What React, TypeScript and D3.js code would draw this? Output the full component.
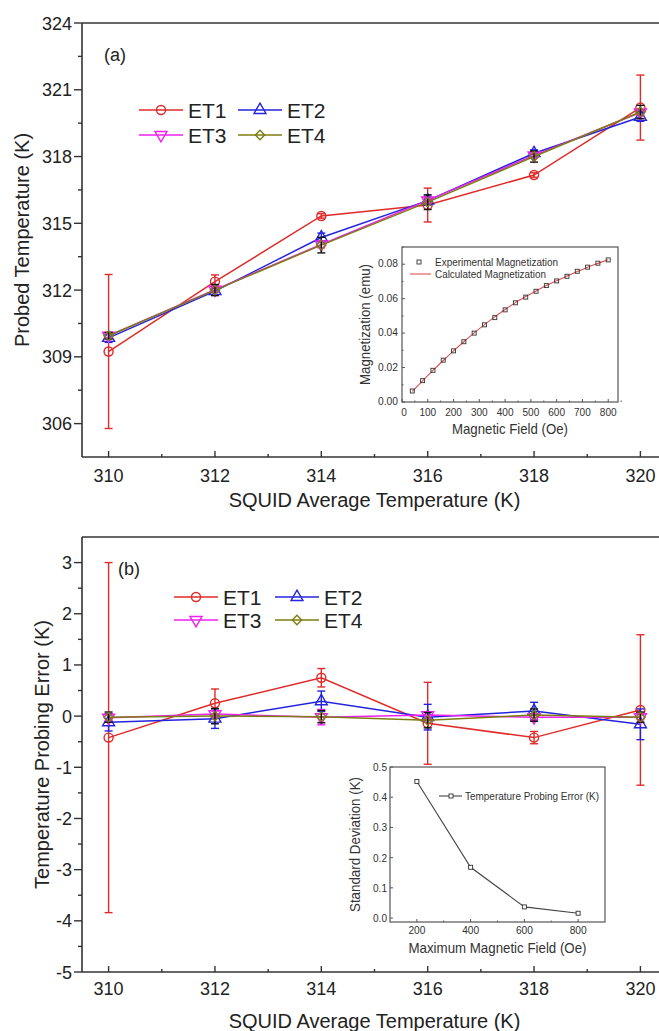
import React, { useEffect } from 'react';
import * as d3 from 'd3';

// SQUID average temperature (K), shared x values of both main panels
const squidTemps = [310, 312, 314, 316, 318, 320];
const seriesNames = ['ET1', 'ET2', 'ET3', 'ET4'];

// (a) probed temperature (K) and error bars
const probedET1 = [309.24, 312.38, 315.33, 315.82, 317.17, 320.2];
const probedET2 = [309.85, 311.95, 314.36, 316.02, 318.15, 319.78];
const probedET3 = [309.95, 312.02, 314.05, 316.03, 318.05, 319.98];
const probedET4 = [309.95, 312.0, 314.02, 315.95, 318.0, 320.0];
const probedErrET1 = [3.46, 0.3, 0.1, 0.76, 0.1, 1.46];
const probedErrET2 = [0.2, 0.15, 0.2, 0.2, 0.15, 0.2];
const probedErrET3 = [0.1, 0.1, 0.15, 0.1, 0.1, 0.1];
const probedErrET4 = [0.15, 0.25, 0.35, 0.33, 0.25, 0.3];

// (b) temperature probing error (K) and error bars
const errorET1 = [-0.42, 0.25, 0.75, -0.14, -0.42, 0.12];
const errorET2 = [-0.12, -0.05, 0.29, -0.02, 0.1, -0.16];
const errorET3 = [-0.03, 0.04, -0.02, 0.02, -0.02, -0.02];
const errorET4 = [-0.02, 0.0, -0.01, -0.08, 0.02, -0.02];
const errorErrET1 = [3.42, 0.28, 0.18, 0.8, 0.12, 1.47];
const errorErrET2 = [0.17, 0.19, 0.2, 0.25, 0.17, 0.3];
const errorErrET3 = [0.05, 0.06, 0.15, 0.06, 0.06, 0.05];
const errorErrET4 = [0.1, 0.15, 0.12, 0.15, 0.12, 0.1];

// inset (a): magnetization vs field
const fieldOe = [40, 80, 120, 160, 200, 240, 280, 320, 360, 400, 440, 480, 520, 560, 600, 640, 680, 720, 760, 800];
const expMagnetization = [0.0064, 0.0124, 0.0184, 0.0243, 0.0297, 0.035, 0.040, 0.0448, 0.049, 0.0535,
  0.0576, 0.0609, 0.0643, 0.0676, 0.0703, 0.073, 0.0759, 0.0783, 0.0806, 0.0825];
const calcMagnetization = [0.0062, 0.0123, 0.0183, 0.0241, 0.0297, 0.035, 0.0401, 0.0449, 0.0494, 0.0537,
  0.0577, 0.0612, 0.0645, 0.0676, 0.0704, 0.0731, 0.0758, 0.0783, 0.0805, 0.0826];

// inset (b): standard deviation vs max field
const maxFieldOe = [200, 400, 600, 800];
const stdDevK = [0.452, 0.168, 0.037, 0.016];

const colors = ['#e02a2a', '#2424dc', '#f020f0', '#7d7d10'];
const errColors = ['#e02a2a', '#2424dc', '#f020f0', '#111'];
const FONT = '"Liberation Sans", Arial, sans-serif';

function markerPath(i: number) {
  if (i === 0) return d3.symbol(d3.symbolCircle, 64)();
  if (i === 1 || i === 2) return d3.symbol(d3.symbolTriangle, 62)();
  return d3.symbol(d3.symbolDiamond2, 56)();
}

function Marker({ i, x, y }: { i: number; x: number; y: number }) {
  const rot = i === 2 ? ' rotate(180)' : '';
  return <path d={markerPath(i) || ''} transform={`translate(${x},${y})${rot}`}
    fill="none" stroke={colors[i]} strokeWidth={1.4} />;
}

// condensed-looking text for the insets (the original uses a narrow face)
function NText(props: any) {
  return <text lengthAdjust="spacingAndGlyphs" {...props} />;
}

type PanelProps = {
  top: number; bottom: number; yDomain: [number, number];
  yTicks: number[]; yMinor: number[]; values: number[][]; errs: number[][];
  label: string; labelX: number; labelY: number;
  legendX: number[]; legendRows: number[];
  yTitle: string; yTitleX: number; xLabelY: number; xTitleY: number;
};

function MainPanel(p: PanelProps) {
  const left = 82, right = 667;
  const x = d3.scaleLinear().domain([309.5, 320.5]).range([left, right]);
  const y = d3.scaleLinear().domain(p.yDomain).range([p.bottom, p.top]);
  const xMajor = d3.range(310, 321, 2);
  const xMinor = d3.range(311, 321, 2);
  const line = d3.line<number>().x((_, k) => x(squidTemps[k])).y(d => y(d));
  const midY = (p.top + p.bottom) / 2;
  return (
    <g fontFamily={FONT}>
      {/* frame */}
      <line x1={left} x2={right} y1={p.top} y2={p.top} stroke="#333" strokeWidth={1.6} />
      <line x1={left} x2={left} y1={p.top} y2={p.bottom} stroke="#333" strokeWidth={1.6} />
      <line x1={left} x2={right} y1={p.bottom} y2={p.bottom} stroke="#333" strokeWidth={1.6} />
      {xMajor.map(t => <line key={'xM' + t} x1={x(t)} x2={x(t)} y1={p.bottom} y2={p.bottom - 6} stroke="#333" strokeWidth={1.4} />)}
      {xMinor.map(t => <line key={'xm' + t} x1={x(t)} x2={x(t)} y1={p.bottom} y2={p.bottom - 3} stroke="#333" strokeWidth={1.4} />)}
      {p.yTicks.map(t => <line key={'yM' + t} x1={left} x2={left - 8} y1={y(t)} y2={y(t)} stroke="#333" strokeWidth={1.4} />)}
      {p.yMinor.map(t => <line key={'ym' + t} x1={left} x2={left - 4} y1={y(t)} y2={y(t)} stroke="#333" strokeWidth={1.4} />)}
      {xMajor.map(t => <text key={'xl' + t} x={x(t)} y={p.xLabelY} fontSize={18} textAnchor="middle" fill="#222">{t}</text>)}
      {p.yTicks.map(t => <text key={'yl' + t} x={72} y={y(t) + 6.5} fontSize={18} textAnchor="end" fill="#222">{t}</text>)}
      <text x={(left + right) / 2} y={p.xTitleY} fontSize={20} textAnchor="middle" fill="#222">SQUID Average Temperature (K)</text>
      <text transform={`translate(${p.yTitleX},${midY}) rotate(-90)`} fontSize={20} textAnchor="middle" fill="#222">{p.yTitle}</text>
      <text x={p.labelX} y={p.labelY} fontSize={18} fill="#222">{p.label}</text>
      {/* series */}
      {p.values.map((vals, i) => (
        <g key={seriesNames[i]}>
          <path d={line(vals) || ''} fill="none" stroke={colors[i]} strokeWidth={1.5} />
          {vals.map((v, k) => {
            const cx = x(squidTemps[k]);
            const e = p.errs[i][k];
            return (
              <g key={k} stroke={errColors[i]} strokeWidth={1.4}>
                <line x1={cx} x2={cx} y1={y(v - e)} y2={y(v + e)} />
                <line x1={cx - 4} x2={cx + 4} y1={y(v - e)} y2={y(v - e)} />
                <line x1={cx - 4} x2={cx + 4} y1={y(v + e)} y2={y(v + e)} />
              </g>
            );
          })}
          {vals.map((v, k) => <Marker key={'m' + k} i={i} x={x(squidTemps[k])} y={y(v)} />)}
        </g>
      ))}
      {/* legend */}
      {seriesNames.map((name, i) => {
        const col = i % 2, row = Math.floor(i / 2);
        const lx = p.legendX[col], ly = p.legendRows[row];
        return (
          <g key={'lg' + name}>
            <line x1={lx} x2={lx + 44} y1={ly} y2={ly} stroke={colors[i]} strokeWidth={1.5} />
            <Marker i={i} x={lx + 22} y={ly} />
            <text x={lx + 49} y={ly + 7.5} fontSize={21} fill="#222">{name}</text>
          </g>
        );
      })}
    </g>
  );
}

function InsetA() {
  const l = 402, r = 618, t = 247, b = 402;
  const x = d3.scaleLinear().domain([0, 838]).range([l, r]);
  const y = d3.scaleLinear().domain([0, 0.09]).range([b, t]);
  const calc = d3.line<number>().x((_, k) => x(fieldOe[k])).y(d => y(d)).curve(d3.curveMonotoneX);
  const xt = d3.range(0, 801, 100);
  const yt = d3.range(0, 0.081, 0.02);
  return (
    <g fontFamily={FONT} fill="#333">
      <rect x={l} y={t} width={r - l} height={b - t} fill="white" stroke="#555" strokeWidth={1.2} />
      {xt.map(v => <line key={'x' + v} x1={x(v)} x2={x(v)} y1={b} y2={b - 3} stroke="#555" />)}
      {xt.map(v => <line key={'xm' + v} x1={x(v + 50)} x2={x(v + 50)} y1={b} y2={b - 1.5} stroke="#555" />)}
      {yt.map(v => <line key={'y' + v} x1={l} x2={l + 3} y1={y(v)} y2={y(v)} stroke="#555" />)}
      {yt.map(v => <line key={'ym' + v} x1={l} x2={l + 1.5} y1={y(v + 0.01)} y2={y(v + 0.01)} stroke="#555" />)}
      {xt.map(v => <NText key={'xl' + v} x={x(v) + (v === 0 ? 2 : 0)} y={b + 13.5} fontSize={11} textAnchor="middle"
        textLength={String(v).length * 5.6}>{v}</NText>)}
      {yt.map(v => <NText key={'yl' + v} x={l - 4} y={y(v) + 3} fontSize={11} textAnchor="end"
        textLength={20}>{v.toFixed(2)}</NText>)}
      <NText x={(l + r) / 2} y={b + 32} fontSize={14.5} textAnchor="middle" textLength={116}>Magnetic Field (Oe)</NText>
      <NText transform={`translate(${l - 32},${(t + b) / 2}) rotate(-90)`} fontSize={14.5} textAnchor="middle"
        textLength={121}>Magnetization (emu)</NText>
      <path d={calc(calcMagnetization) || ''} fill="none" stroke="#e05050" strokeWidth={1.1} />
      {expMagnetization.map((v, k) => (
        <rect key={k} x={x(fieldOe[k]) - 2} y={y(v) - 2} width={4} height={4} fill="none" stroke="#333" strokeWidth={0.9} />
      ))}
      <rect x={417} y={260} width={4} height={4} fill="none" stroke="#333" strokeWidth={0.9} />
      <NText x={435} y={266} fontSize={11} textLength={123}>Experimental Magnetization</NText>
      <line x1={410} x2={431} y1={274} y2={274} stroke="#e05050" strokeWidth={1.1} />
      <NText x={435} y={278} fontSize={11} textLength={111}>Calculated Magnetization</NText>
    </g>
  );
}

function InsetB() {
  const l = 390, r = 605, t = 767, b = 922;
  const x = d3.scaleLinear().domain([100, 900]).range([l, r]);
  const y = d3.scaleLinear().domain([-0.013, 0.5]).range([b, t]);
  const ln = d3.line<number>().x((_, k) => x(maxFieldOe[k])).y(d => y(d));
  const xt = [200, 400, 600, 800];
  const yt = d3.range(0, 0.51, 0.1);
  return (
    <g fontFamily={FONT} fill="#333">
      <rect x={l} y={t} width={r - l} height={b - t} fill="white" stroke="#555" strokeWidth={1.2} />
      {xt.map(v => <line key={'x' + v} x1={x(v)} x2={x(v)} y1={b} y2={b - 3} stroke="#555" />)}
      {[300, 500, 700].map(v => <line key={'xm' + v} x1={x(v)} x2={x(v)} y1={b} y2={b - 1.5} stroke="#555" />)}
      {yt.map(v => <line key={'y' + v} x1={l} x2={l + 3} y1={y(v)} y2={y(v)} stroke="#555" />)}
      {xt.map(v => <NText key={'xl' + v} x={x(v)} y={b + 12} fontSize={11.5} textAnchor="middle" textLength={17}>{v}</NText>)}
      {yt.map(v => <NText key={'yl' + v} x={l - 3} y={y(v) + 4} fontSize={11.5} textAnchor="end" textLength={14}>{v.toFixed(1)}</NText>)}
      <NText x={(l + r) / 2} y={b + 31} fontSize={14.5} textAnchor="middle" textLength={178}>Maximum Magnetic Field (Oe)</NText>
      <NText transform={`translate(${l - 30},${(t + b) / 2}) rotate(-90)`} fontSize={14.5} textAnchor="middle"
        textLength={135}>Standard Deviation (K)</NText>
      <path d={ln(stdDevK) || ''} fill="none" stroke="#444" strokeWidth={1.1} />
      {stdDevK.map((v, k) => (
        <rect key={k} x={x(maxFieldOe[k]) - 2} y={y(v) - 2} width={4} height={4} fill="white" stroke="#333" strokeWidth={0.9} />
      ))}
      <line x1={439} x2={462} y1={796} y2={796} stroke="#444" strokeWidth={1.1} />
      <rect x={449} y={794} width={4} height={4} fill="white" stroke="#333" strokeWidth={0.9} />
      <NText x={465} y={800} fontSize={11.5} textLength={134}>Temperature Probing Error (K)</NText>
    </g>
  );
}

export default function App() {
  useEffect(() => {
    document.body.style.margin = '0';
  }, []);
  return (
    <svg width={659} height={1031} style={{ display: 'block', background: 'white' }}>
      <MainPanel top={23} bottom={457} yDomain={[304.5, 324]}
        yTicks={d3.range(306, 325, 3)} yMinor={d3.range(307.5, 324, 3)}
        values={[probedET1, probedET2, probedET3, probedET4]}
        errs={[probedErrET1, probedErrET2, probedErrET3, probedErrET4]}
        label="(a)" labelX={104} labelY={61}
        legendX={[139, 238]} legendRows={[110, 135]}
        yTitle="Probed Temperature (K)" yTitleX={29} xLabelY={482} xTitleY={507} />
      <InsetA />
      <MainPanel top={537} bottom={972} yDomain={[-5, 3.5]}
        yTicks={d3.range(-5, 4, 1)} yMinor={d3.range(-4.5, 3.5, 1)}
        values={[errorET1, errorET2, errorET3, errorET4]}
        errs={[errorErrET1, errorErrET2, errorErrET3, errorErrET4]}
        label="(b)" labelX={118} labelY={575}
        legendX={[174, 275]} legendRows={[597, 620]}
        yTitle="Temperature Probing Error (K)" yTitleX={49} xLabelY={995} xTitleY={1028} />
      <InsetB />
    </svg>
  );
}
